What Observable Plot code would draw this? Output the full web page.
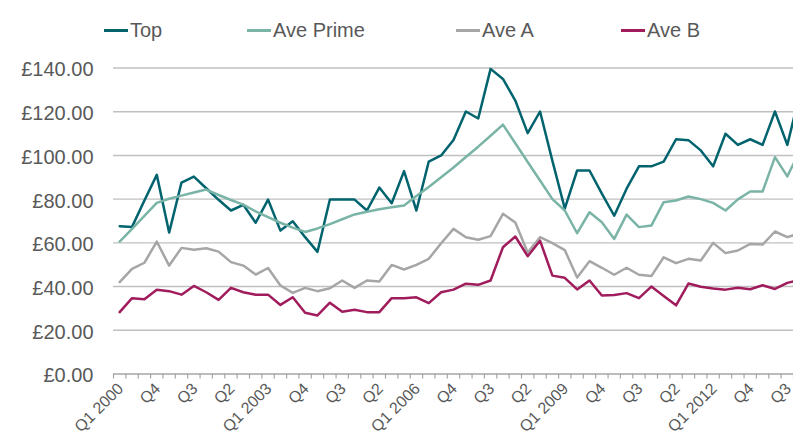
<!DOCTYPE html>
<html><head><meta charset="utf-8">
<script src="https://cdn.jsdelivr.net/npm/d3@7"></script>
<script src="https://cdn.jsdelivr.net/npm/@observablehq/plot@0.6"></script>
<style>
body{margin:0;background:#fff;font-family:"Liberation Sans",Arial,sans-serif;}
#wrap{position:relative;width:800px;height:441px;overflow:hidden;background:#fff;}
#legend{position:relative;height:50px;}
.sw{position:absolute;top:28.5px;height:3px;width:24px;}
.lb{position:absolute;top:20px;font-size:20px;line-height:20px;color:#595959;white-space:nowrap;}
</style></head><body>
<div id="wrap"><div id="legend"></div><div id="chart"></div></div>
<script>
const quarters = [
 "Q1 2000","Q2 2000","Q3 2000","Q4 2000","Q1 2001","Q2 2001","Q3 2001","Q4 2001",
 "Q1 2002","Q2 2002","Q3 2002","Q4 2002","Q1 2003","Q2 2003","Q3 2003","Q4 2003",
 "Q1 2004","Q2 2004","Q3 2004","Q4 2004","Q1 2005","Q2 2005","Q3 2005","Q4 2005",
 "Q1 2006","Q2 2006","Q3 2006","Q4 2006","Q1 2007","Q2 2007","Q3 2007","Q4 2007",
 "Q1 2008","Q2 2008","Q3 2008","Q4 2008","Q1 2009","Q2 2009","Q3 2009","Q4 2009",
 "Q1 2010","Q2 2010","Q3 2010","Q4 2010","Q1 2011","Q2 2011","Q3 2011","Q4 2011",
 "Q1 2012","Q2 2012","Q3 2012","Q4 2012","Q1 2013","Q2 2013","Q3 2013","Q4 2013"];
const tickLabels = ["Q1 2000","Q4","Q3","Q2","Q1 2003","Q4","Q3","Q2","Q1 2006","Q4","Q3","Q2","Q1 2009","Q4","Q3","Q2","Q1 2012","Q4","Q3"];
const yTicks = [0,20,40,60,80,100,120,140];
const seriesNames = ["Top","Ave Prime","Ave A","Ave B"];
const seriesColors = ["#00636e","#7ab4a7","#a6a6a6","#a01c5c"];
const topValues = [67.6,67.3,79.4,91.1,64.7,87.6,90.3,85.0,79.7,74.8,77.4,69.2,79.8,65.6,69.9,62.6,
 55.9,79.8,79.8,79.8,74.8,85.3,78.1,92.8,74.8,97.2,100.0,107.1,120.1,116.9,139.6,135.0,
 125.1,110.2,120.1,97.5,75.7,93.1,93.1,82.5,72.4,84.8,95.0,95.0,97.2,107.4,107.0,102.3,
 95.0,109.9,104.8,107.4,104.8,120.1,104.8,128.0];
const avePrimeValues = [60.6,66.4,72.3,78.3,80.2,81.6,83.0,84.4,81.9,79.6,77.5,74.4,71.8,69.2,67.0,65.0,
 66.6,68.6,70.8,73.0,74.2,75.4,76.3,77.1,81.4,85.6,90.0,94.5,99.3,104.0,109.0,114.1,
 105.6,97.0,88.5,80.0,74.8,64.4,74.0,69.4,61.8,72.9,67.2,67.9,78.6,79.4,81.2,80.0,
 78.3,74.8,79.9,83.5,83.5,99.2,90.4,102.0];
const aveAValues = [42.0,48.1,50.9,60.6,49.6,57.7,56.8,57.5,56.0,51.2,49.6,45.5,48.5,40.5,37.1,39.4,
 37.9,39.2,42.8,39.4,42.8,42.3,49.9,47.8,49.9,52.7,59.8,66.4,62.6,61.4,63.1,73.3,
 69.3,55.6,62.6,59.9,56.7,44.1,51.6,48.6,45.4,48.6,45.4,44.8,53.4,50.7,52.7,51.9,
 60.0,55.3,56.5,59.5,59.2,65.2,62.6,64.4];
const aveBValues = [28.3,34.7,34.2,38.5,37.9,36.3,40.3,37.4,33.9,39.4,37.4,36.3,36.3,31.6,35.1,28.0,
 26.8,32.6,28.5,29.4,28.3,28.3,34.7,34.7,35.1,32.4,37.4,38.6,41.3,40.8,42.8,58.0,
 62.9,53.9,61.0,45.0,44.0,38.7,42.8,35.9,36.1,37.0,34.7,40.0,35.7,31.4,41.4,39.9,
 39.1,38.6,39.5,38.8,40.6,38.9,41.7,43.0];

const allValues = [topValues, avePrimeValues, aveAValues, aveBValues];
const rows = seriesNames.flatMap((name, s) =>
  allValues[s].map((v, i) => ({series: name, i, quarter: quarters[i], v})));
const shownCount = 55; // Q1 2000 .. Q3 2013 visible on the axis
const boundaries = d3.range(shownCount + 1).map(k => k - 0.5);
const labelIdx = tickLabels.map((_, k) => k * 3);

// legend (HTML, above the SVG)
const legendX = [104, 247, 456, 621];
const legend = document.getElementById("legend");
seriesNames.forEach((name, k) => {
  const sw = document.createElement("div");
  sw.className = "sw"; sw.style.left = legendX[k] + "px"; sw.style.background = seriesColors[k];
  const lb = document.createElement("div");
  lb.className = "lb"; lb.style.left = (legendX[k] + 26) + "px"; lb.textContent = name;
  legend.append(sw, lb);
});

const chart = Plot.plot({
  width: 793, height: 391,
  marginTop: 17.5, marginBottom: 67.5, marginLeft: 113, marginRight: 0,
  style: {fontFamily: "Liberation Sans, Arial, sans-serif", color: "#595959", background: "white"},
  x: {type: "linear", domain: [-0.5, shownCount - 0.5], axis: null},
  y: {domain: [0, 140], axis: null},
  color: {domain: seriesNames, range: seriesColors},
  marks: [
    Plot.ruleY(yTicks.filter(d => d > 0), {stroke: "#c0c0c0", strokeWidth: 1.4}),
    Plot.ruleY([0], {stroke: "#a6a6a6", strokeWidth: 1.4}),
    Plot.axisX({ticks: boundaries, tickSize: 5, tickFormat: () => "", stroke: "#a6a6a6", strokeWidth: 1.2, label: null}),
    Plot.axisY({ticks: yTicks, tickSize: 0, tickPadding: 20, fontSize: 20, dy: 2,
      tickFormat: d => "£" + d.toFixed(2), label: null, fill: "#595959"}),
    Plot.text(labelIdx, {x: d => d, frameAnchor: "bottom", text: (d, k) => tickLabels[k],
      rotate: -45, textAnchor: "end", lineAnchor: "middle", dx: 1, dy: 12, fontSize: 16, fill: "#595959"}),
    Plot.line(rows, {x: "i", y: "v", z: "series", stroke: "series", strokeWidth: 2.5,
      strokeLinejoin: "round", clip: true})
  ]
});
document.getElementById("chart").append(chart);
</script>
</body></html>
